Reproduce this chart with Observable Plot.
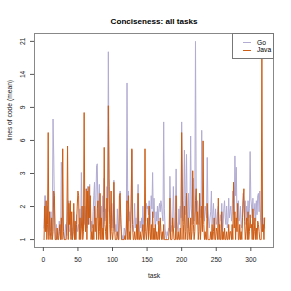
<!DOCTYPE html>
<html>
<head>
<meta charset="utf-8">
<script src="https://cdn.jsdelivr.net/npm/d3@7"></script>
<script src="https://cdn.jsdelivr.net/npm/@observablehq/plot@0.6"></script>
<style>
  body { margin: 0; background: white; }
  #wrap { position: relative; width: 291px; height: 291px; font-family: "Liberation Sans", Arial, sans-serif; }
  #legend { position: absolute; left: 232px; top: 33px; width: 40px; height: 24px; background: white; border: 1px solid #777; font-size: 6.7px; }
  .row { position: absolute; left: 0; height: 8px; width: 40px; }
  .sw { position: absolute; left: 10px; top: 3.5px; width: 8px; height: 1.2px; }
  .lb { position: absolute; left: 24px; top: 0; line-height: 8px; color: #000; }
</style>
</head>
<body>
<div id="wrap"></div>
<script>
const title = "Conciseness: all tasks";
const xLabel = "task";
const yLabel = "lines of code (mean)";
const seriesNames = ["Go", "Java"];
const seriesColors = ["#b2abd2", "#cd5c14"];
const xTicks = [0, 50, 100, 150, 200, 250, 300];
const yTicks = [1, 1.983, 3.449, 5.635, 8.895, 13.758, 21];
const yTickLabels = ["1", "2", "3", "6", "9", "14", "21"];

const go = [
  1.3, 2.4, 2.4, 1.5, 1.2, 2.0, 1.4, 1.1, 1.6, 1.2,
  1.8, 1.1, 1.3, 7.6, 4.5, 2.0, 1.2, 1.0, 1.4, 1.1,
  1.0, 1.1, 1.5, 1.2, 1.0, 4.1, 3.2, 1.5, 1.3, 1.1,
  1.0, 1.4, 1.2, 1.1, 1.8, 2.2, 1.3, 1.2, 1.6, 1.1,
  1.3, 1.0, 1.2, 1.8, 1.1, 1.4, 1.0, 1.7, 1.2, 1.3,
  1.4, 1.2, 1.9, 1.3, 3.5, 1.6, 1.2, 1.5, 2.0, 1.4,
  1.7, 2.0, 1.3, 2.8, 2.3, 1.4, 2.9, 1.6, 1.2, 1.5,
  1.3, 1.8, 2.4, 3.0, 1.5, 2.2, 3.9, 4.0, 1.6, 2.2,
  2.9, 1.7, 1.4, 2.0, 1.3, 2.4, 1.8, 3.2, 1.5, 1.9,
  1.6, 2.8, 1.8, 18.4, 3.2, 2.5, 1.7, 1.3, 2.1, 1.5,
  1.3, 3.1, 1.6, 1.2, 1.4, 1.1, 1.9, 1.2, 1.0, 1.5,
  2.6, 1.4, 1.2, 1.0, 1.1, 1.0, 1.3, 1.2, 1.0, 1.4,
  12.3, 2.1, 2.6, 1.5, 1.8, 1.3, 2.3, 4.9, 1.6, 1.2,
  1.4, 2.1, 1.3, 1.6, 1.2, 1.9, 2.9, 1.4, 1.2, 1.5,
  1.3, 1.6, 1.2, 2.0, 1.4, 1.2, 1.8, 1.5, 2.1, 1.9,
  2.0, 1.7, 2.2, 1.4, 1.6, 2.4, 1.9, 3.5, 1.6, 2.3,
  1.6, 1.2, 1.8, 1.5, 2.0, 1.4, 1.9, 2.1, 1.8, 2.2,
  2.0, 1.7, 1.5, 7.3, 1.9, 1.3, 1.1, 1.0, 1.2, 1.1,
  1.3, 1.2, 3.3, 2.0, 1.4, 1.2, 1.5, 2.8, 1.6, 1.3,
  1.8, 3.7, 1.5, 1.3, 1.2, 1.9, 1.4, 2.0, 1.6, 7.3,
  2.8, 1.5, 2.2, 4.9, 1.7, 2.4, 4.6, 1.8, 1.3, 2.5,
  1.6, 2.0, 6.0, 1.9, 1.4, 2.2, 3.2, 1.5, 1.8, 21.0,
  2.6, 1.8, 2.2, 1.5, 1.4, 2.5, 1.9, 1.6, 6.5, 2.0,
  2.2, 1.7, 1.5, 2.0, 1.8, 1.6, 4.4, 1.9, 1.5, 1.3,
  1.6, 1.8, 2.6, 1.4, 1.7, 2.1, 1.5, 1.3, 1.9, 1.4,
  1.5, 1.8, 2.0, 1.4, 1.3, 1.7, 1.5, 2.1, 1.2, 1.4,
  1.9, 2.2, 1.6, 1.4, 2.0, 1.3, 1.5, 2.3, 1.6, 1.8,
  2.0, 1.5, 1.8, 2.6, 2.1, 1.7, 4.5, 2.4, 3.8, 1.6,
  1.8, 2.2, 1.5, 1.6, 2.0, 1.4, 1.3, 1.9, 2.5, 2.0,
  1.6, 2.2, 1.4, 2.0, 1.5, 2.2, 1.6, 1.9, 4.8, 2.3,
  2.0, 1.6, 2.3, 1.4, 1.8, 2.1, 1.5, 2.2, 1.7, 2.4,
  2.5, 1.8, 2.6, 1.6, 1.3, 1.2, 1.4, 1.2, 1.6, 1.3
];

const java = [
  1.0, 2.0, 1.2, 2.2, 1.0, 1.4, 6.3, 1.0, 1.8, 1.2,
  1.0, 1.6, 1.0, 1.2, 2.6, 2.4, 1.0, 1.0, 1.0, 1.3,
  1.0, 1.0, 1.2, 1.4, 1.0, 1.6, 1.0, 5.0, 1.2, 1.0,
  1.0, 1.0, 1.0, 1.5, 5.2, 1.0, 2.1, 1.4, 2.2, 1.0,
  1.8, 1.0, 1.2, 2.1, 1.0, 1.5, 1.0, 1.4, 2.0, 2.6,
  2.4, 1.0, 1.6, 1.0, 1.3, 2.0, 1.0, 1.2, 8.3, 1.5,
  1.2, 2.7, 1.0, 2.6, 1.4, 2.8, 1.6, 2.4, 1.0, 1.2,
  1.0, 1.4, 1.0, 2.0, 1.2, 1.6, 1.0, 1.9, 2.2, 1.0,
  1.2, 2.5, 1.0, 1.6, 1.0, 1.3, 1.0, 5.1, 1.4, 1.2,
  1.0, 2.3, 1.0, 9.1, 2.8, 1.4, 1.0, 2.6, 1.2, 1.0,
  1.2, 3.0, 1.3, 1.0, 1.0, 1.0, 1.2, 1.0, 1.0, 2.4,
  2.5, 1.6, 1.0, 1.0, 1.0, 1.0, 1.0, 1.1, 1.0, 1.3,
  2.2, 1.0, 2.4, 1.0, 1.2, 1.0, 2.0, 5.0, 1.4, 1.0,
  1.0, 1.2, 1.0, 1.0, 1.4, 1.0, 2.5, 1.0, 1.0, 1.2,
  1.0, 1.0, 1.2, 1.4, 1.0, 1.0, 5.0, 1.2, 1.0, 1.3,
  1.6, 1.0, 2.0, 1.2, 1.0, 1.4, 1.0, 1.8, 1.0, 1.3,
  1.0, 1.4, 1.0, 1.2, 1.0, 1.0, 1.5, 1.0, 1.6, 1.2,
  1.0, 1.2, 1.0, 1.4, 1.0, 1.0, 1.0, 1.0, 1.0, 1.0,
  1.0, 1.2, 2.3, 1.0, 1.0, 1.0, 1.6, 1.3, 1.0, 1.0,
  1.0, 2.4, 1.0, 1.0, 1.2, 1.0, 1.0, 1.3, 1.0, 6.3,
  2.6, 1.0, 1.4, 2.0, 1.0, 1.2, 2.5, 1.0, 1.0, 1.6,
  1.2, 1.0, 1.6, 1.0, 1.2, 3.6, 1.4, 1.0, 1.2, 2.2,
  2.7, 1.4, 1.8, 1.0, 1.2, 2.5, 1.0, 1.3, 2.0, 1.2,
  5.6, 1.4, 1.0, 1.2, 1.0, 1.0, 2.1, 1.0, 1.0, 1.0,
  1.0, 1.2, 1.0, 1.4, 1.0, 1.2, 1.6, 1.0, 1.0, 1.3,
  1.2, 1.0, 2.3, 1.0, 1.4, 1.0, 1.0, 1.8, 1.0, 1.2,
  1.0, 1.3, 1.0, 1.0, 1.2, 1.0, 1.0, 1.4, 1.0, 1.2,
  1.2, 1.0, 1.4, 1.0, 3.0, 1.3, 1.8, 1.0, 1.6, 1.2,
  2.1, 1.0, 1.0, 1.4, 1.0, 1.2, 1.0, 1.6, 2.2, 2.7,
  1.5, 1.0, 1.2, 1.6, 1.0, 1.8, 1.0, 1.2, 1.7, 1.3,
  1.4, 1.0, 1.9, 1.0, 1.2, 1.6, 1.0, 1.3, 1.0, 1.5,
  1.4, 1.2, 1.0, 1.0, 1.0, 16.8, 1.2, 1.4, 1.0, 1.6
];

const goData = go.map((v, i) => ({task: i + 1, value: v}));
const javaData = java.map((v, i) => ({task: i + 1, value: v}));

const chart = Plot.plot({
  width: 291,
  height: 291,
  marginLeft: 34,
  marginRight: 18,
  marginTop: 33,
  marginBottom: 44,
  style: {fontFamily: "'Liberation Sans', Arial, sans-serif", fontSize: "6.7px", background: "white", color: "#000", overflow: "visible"},
  x: {domain: [-12.8, 332.8]},
  y: {type: "symlog", constant: 1, domain: [0.817, 23.2]},
  marks: [
    Plot.lineY(goData, {x: "task", y: "value", stroke: seriesColors[0], strokeWidth: 1}),
    Plot.lineY(javaData, {x: "task", y: "value", stroke: seriesColors[1], strokeWidth: 1}),
    Plot.frame({stroke: "#888"}),
    Plot.axisX({ticks: xTicks, tickSize: 4, tickPadding: 6, label: null, stroke: "#555", fill: "#222"}),
    Plot.axisY({ticks: yTicks, tickSize: 4, tickFormat: () => "", label: null, stroke: "#555"}),
    Plot.text(yTicks, {y: d => d, text: (d, i) => yTickLabels[i], frameAnchor: "left", dx: -12, rotate: -90, textAnchor: "middle", fill: "#222"}),
    Plot.text([xLabel], {frameAnchor: "bottom", dy: 30, fill: "#222"}),
    Plot.text([yLabel], {frameAnchor: "left", dx: -25, rotate: -90, fill: "#222"}),
    Plot.text([title], {frameAnchor: "top", dy: -15, fontWeight: "bold", fontSize: 8.1, fill: "#000"})
  ]
});

const wrap = document.getElementById("wrap");
wrap.appendChild(chart);

const legend = document.createElement("div");
legend.id = "legend";
seriesNames.forEach((name, i) => {
  const row = document.createElement("div");
  row.className = "row";
  row.style.top = (4.5 + i * 7.6) + "px";
  const sw = document.createElement("div");
  sw.className = "sw";
  sw.style.background = seriesColors[i];
  const lb = document.createElement("div");
  lb.className = "lb";
  lb.textContent = name;
  row.appendChild(sw);
  row.appendChild(lb);
  legend.appendChild(row);
});
wrap.appendChild(legend);
</script>
</body>
</html>
